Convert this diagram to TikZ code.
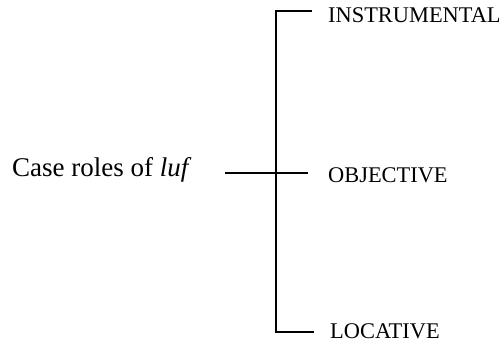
\documentclass[tikz,border=0pt]{standalone}
\usepackage{fontspec}
\setmainfont{Liberation Serif}
\begin{document}
\begin{tikzpicture}[x=1pt,y=1pt,
  lbl/.style={anchor=base west,inner sep=0pt,font=\fontsize{22.4}{25}\selectfont},
  src/.style={anchor=base west,inner sep=0pt,font=\fontsize{27}{30}\selectfont},
  conn/.style={line width=2.4pt,line cap=butt,line join=miter}]
\useasboundingbox (0,0) rectangle (504,344);
% text nodes (y measured from bottom: 344 - pixel y)
\node[src] (case) at (12,167) {Case roles of \textit{luf}};
\node[lbl] (instr) at (328,321.5) {INSTRUMENTAL};
\node[lbl] (obj) at (328,161) {OBJECTIVE};
\node[lbl] (loc) at (330,5) {LOCATIVE};
% connector coordinates
\coordinate (mL) at (225,171);
\coordinate (mR) at (308,171);
\coordinate (vT) at (276,333);
\coordinate (vB) at (276,12);
\coordinate (tR) at (312,333);
\coordinate (bR) at (314,12);
% connectors
\draw[conn] (mL) -- (mR);
\draw[conn] (tR) -- (vT) -- (vB) -- (bR);
\end{tikzpicture}
\end{document}
